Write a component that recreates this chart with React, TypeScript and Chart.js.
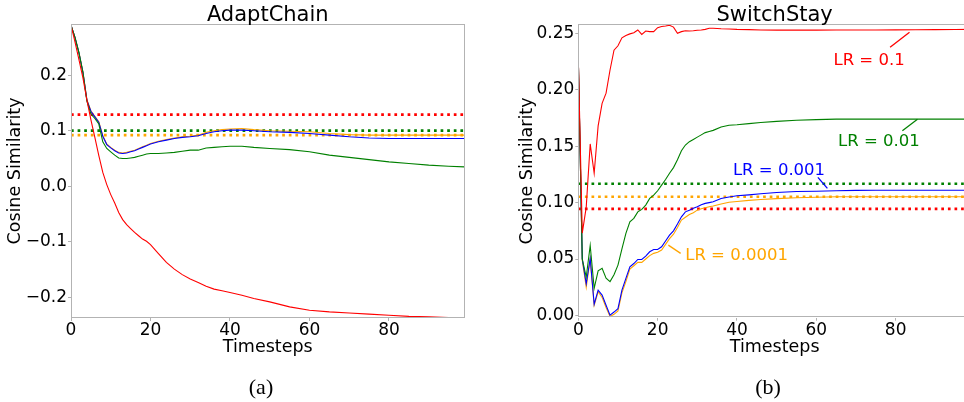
import React, { useEffect, useRef } from "react";
import { Chart, registerables } from "chart.js";
Chart.register(...registerables);

const SANS = "'DejaVu Sans', sans-serif";
const SERIF = "'Liberation Serif', 'Times New Roman', serif";

const RED = "#ff0000";
const GREEN = "#008000";
const BLUE = "#0000ff";
const ORANGE = "#ffa500";

// ---------- (a) AdaptChain ----------
const tA = [0,1,2,3,4,5,6,7,8,9,10,11,12,13,14,15,16,17,18,19,20,22,24,26,28,30,32,34,36,38,40,43,46,50,55,60,65,70,75,80,85,90,95,99];
const aRed = [0.290,0.260,0.228,0.195,0.155,0.120,0.088,0.055,0.025,0.003,-0.015,-0.030,-0.047,-0.060,-0.069,-0.076,-0.083,-0.089,-0.095,-0.099,-0.105,
  -0.121,-0.137,-0.149,-0.159,-0.167,-0.173,-0.180,-0.185,-0.188,-0.191,
  -0.196,-0.202,-0.208,-0.217,-0.223,-0.226,-0.228,-0.230,-0.232,-0.234,-0.235,-0.236,-0.237];
const aGreen = [0.290,0.268,0.240,0.205,0.153,0.130,0.122,0.112,0.080,0.068,0.062,0.056,0.051,0.050,0.050,0.051,0.052,0.054,0.056,0.058,0.059,
  0.059,0.060,0.061,0.063,0.065,0.065,0.069,0.070,0.071,0.072,
  0.072,0.070,0.068,0.066,0.062,0.056,0.052,0.048,0.044,0.041,0.038,0.036,0.035];
const aBlue = [0.290,0.268,0.240,0.205,0.155,0.135,0.125,0.115,0.090,0.075,0.069,0.064,0.060,0.059,0.060,0.062,0.064,0.067,0.070,0.073,0.076,
  0.080,0.083,0.086,0.088,0.089,0.091,0.095,0.098,0.100,0.101,
  0.101,0.100,0.098,0.097,0.095,0.092,0.089,0.087,0.086,0.086,0.086,0.086,0.086];
const aOrange = [0.290,0.268,0.241,0.206,0.156,0.136,0.126,0.116,0.091,0.076,0.070,0.065,0.061,0.060,0.061,0.063,0.065,0.068,0.071,0.074,0.077,
  0.081,0.084,0.087,0.089,0.090,0.092,0.097,0.100,0.102,0.103,
  0.104,0.102,0.100,0.099,0.098,0.095,0.093,0.092,0.092,0.092,0.092,0.092,0.092];
const aRefRed = 0.129;
const aRefGreen = 0.100;
const aRefOrange = 0.092;
const aYTicks = [-0.2, -0.1, 0.0, 0.1, 0.2];

// ---------- (b) SwitchStay ----------
const tB = [0,1,2,3,4,5,6,7,8,9,10,11,12,13,14,15,16,17,18,19,20,21,22,23,24,25,26,27,28,29,30,31,32,33,34,36,38,40,43,46,50,55,60,65,70,75,80,85,90,95,99];
const bRed = [0.228,0.073,0.096,0.152,0.126,0.168,0.188,0.197,0.2175,0.235,0.239,0.246,0.248,0.2495,0.2505,0.253,0.249,0.252,0.2515,0.2515,0.255,0.256,0.2565,0.2572,0.2555,0.250,0.2515,0.2523,0.252,0.2523,0.2527,0.253,0.2535,0.2545,0.2545,
  0.254,0.2538,0.2535,0.2533,0.253,0.2528,0.2528,0.2528,0.2529,0.253,0.253,0.2531,0.2532,0.2533,0.2534,0.2535];
const bGreen = [0.228,0.050,0.034,0.062,0.024,0.0395,0.0417,0.033,0.030,0.036,0.0446,0.059,0.0727,0.083,0.086,0.0918,0.094,0.0978,0.1037,0.1066,0.1105,0.1155,0.1205,0.126,0.131,0.138,0.146,0.151,0.154,0.156,0.158,0.160,0.162,0.163,0.164,
  0.167,0.1685,0.169,0.170,0.171,0.172,0.173,0.1735,0.174,0.174,0.174,0.174,0.174,0.174,0.174,0.174];
const bBlue = [0.228,0.050,0.028,0.0505,0.010,0.0224,0.018,0.009,0.0003,0.003,0.006,0.0224,0.0328,0.043,0.046,0.0496,0.0496,0.0526,0.0564,0.0585,0.0585,0.0608,0.066,0.0712,0.075,0.081,0.0874,0.0918,0.0933,0.095,0.0963,0.098,0.0993,0.100,0.1007,
  0.1037,0.105,0.106,0.1068,0.1078,0.109,0.1098,0.110,0.1105,0.1108,0.111,0.111,0.111,0.111,0.111,0.111];
const bOrange = [0.228,0.049,0.025,0.050,0.009,0.021,0.016,0.007,-0.001,0.001,0.004,0.020,0.030,0.041,0.044,0.047,0.047,0.050,0.053,0.055,0.056,0.058,0.063,0.068,0.072,0.078,0.0845,0.087,0.0895,0.091,0.0933,0.0945,0.0955,0.0963,0.097,
  0.0987,0.1003,0.101,0.102,0.1028,0.1035,0.1043,0.1048,0.1052,0.1052,0.1052,0.1052,0.1052,0.1052,0.1052,0.1052];
const bRefGreen = 0.1167;
const bRefOrange = 0.1052;
const bRefRed = 0.0945;
const bYTicks = [0.0, 0.05, 0.10, 0.15, 0.20, 0.25];

const xTicks = [0, 20, 40, 60, 80];

// in-plot labels of panel (b), in data units
const bLabels = [
  { text: "LR = 0.1", color: RED, x: 73.3, y: 0.2254, lx1: 78.6, ly1: 0.2376, lx2: 83.5, ly2: 0.2509 },
  { text: "LR = 0.01", color: GREEN, x: 75.8, y: 0.1536, lx1: 81.7, ly1: 0.1637, lx2: 85.5, ly2: 0.1738 },
  { text: "LR = 0.001", color: BLUE, x: 50.6, y: 0.1285, lx1: 60.4, ly1: 0.1223, lx2: 62.8, ly2: 0.1126 },
  { text: "LR = 0.0001", color: ORANGE, x: 39.9, y: 0.0526, lx1: 22.7, ly1: 0.0623, lx2: 25.8, ly2: 0.055 },
];

const pts = (t: number[], v: number[]) => t.map((x, i) => ({ x, y: v[i] }));
const hline = (y: number) => [{ x: 0, y }, { x: 99, y }];

const solid = (data: any, color: string) => ({
  data, borderColor: color, backgroundColor: color, borderWidth: 1.1, pointRadius: 0, tension: 0, fill: false,
});
const dotted = (data: any, color: string) => ({
  data, borderColor: color, backgroundColor: color, borderWidth: 2.7, borderDash: [2.7, 3.9], borderCapStyle: "butt",
  pointRadius: 0, tension: 0, fill: false,
});

type Panel = {
  title: string;
  caption: string;
  captionX: number;
  datasets: any[];
  yMin: number;
  yMax: number;
  yTicks: number[];
  yDigits: number;
  padding: { left: number; right: number; top: number; bottom: number };
  yAxisWidth: number;
  labels: typeof bLabels;
};

function makeConfig(p: Panel): any {
  const deco = {
    id: "deco",
    afterDatasetsDraw(chart: any) {
      const { ctx, scales } = chart;
      const xs = scales.x, ys = scales.y;
      ctx.save();
      ctx.font = `16.5px ${SANS}`;
      ctx.textAlign = "center";
      ctx.textBaseline = "middle";
      for (const l of p.labels) {
        ctx.fillStyle = l.color;
        ctx.fillText(l.text, xs.getPixelForValue(l.x), ys.getPixelForValue(l.y));
        ctx.strokeStyle = l.color;
        ctx.lineWidth = 1.3;
        ctx.beginPath();
        ctx.moveTo(xs.getPixelForValue(l.lx1), ys.getPixelForValue(l.ly1));
        ctx.lineTo(xs.getPixelForValue(l.lx2), ys.getPixelForValue(l.ly2));
        ctx.stroke();
      }
      ctx.restore();
    },
    afterDraw(chart: any) {
      const { ctx, chartArea: a } = chart;
      ctx.save();
      ctx.strokeStyle = "#b3b3b3";
      ctx.lineWidth = 1;
      ctx.strokeRect(Math.round(a.left) + 0.5, Math.round(a.top) + 0.5, Math.round(a.right - a.left) - 1, Math.round(a.bottom - a.top) - 1);
      ctx.fillStyle = "#000";
      ctx.textAlign = "center";
      ctx.textBaseline = "alphabetic";
      ctx.font = `21px ${SANS}`;
      ctx.fillText(p.title, (a.left + a.right) / 2, 21);
      ctx.font = `22px ${SERIF}`;
      ctx.fillText(p.caption, p.captionX, 394);
      ctx.restore();
    },
  };
  const fmt = (v: number) => {
    const s = Math.abs(v) < 1e-9 ? (0).toFixed(p.yDigits) : v.toFixed(p.yDigits);
    return s.replace("-", "\u2212");
  };
  return {
    type: "line",
    data: { datasets: p.datasets },
    plugins: [deco],
    options: {
      animation: false,
      responsive: false,
      devicePixelRatio: 1,
      layout: { padding: p.padding },
      plugins: { legend: { display: false }, tooltip: { enabled: false }, title: { display: false } },
      scales: {
        x: {
          type: "linear",
          min: 0,
          max: 99,
          afterBuildTicks: (s: any) => { s.ticks = xTicks.map((value) => ({ value })); },
          afterFit: (s: any) => { s.height = 40; },
          ticks: { color: "#000", font: { family: SANS, size: 17, lineHeight: 1.0 }, padding: 1, maxRotation: 0, autoSkip: false, callback: (v: number) => String(v) },
          grid: { display: true, drawOnChartArea: false, drawTicks: true, tickLength: 3, color: "#b3b3b3" },
          border: { display: false },
          title: { display: true, text: "Timesteps", color: "#000", font: { family: SANS, size: 17.5 }, padding: { top: 0, bottom: 0 } },
        },
        y: {
          type: "linear",
          min: p.yMin,
          max: p.yMax,
          afterBuildTicks: (s: any) => { s.ticks = p.yTicks.map((value) => ({ value })); },
          afterFit: (s: any) => { s.width = p.yAxisWidth; },
          ticks: { color: "#000", font: { family: SANS, size: 17 }, padding: 1, autoSkip: false, callback: (v: number) => fmt(v) },
          grid: { display: true, drawOnChartArea: false, drawTicks: true, tickLength: 3, color: "#b3b3b3" },
          border: { display: false },
          title: { display: true, text: "Cosine Similarity", color: "#000", font: { family: SANS, size: 17.5 }, padding: { top: 4.9, bottom: 0 } },
        },
      },
    },
  };
}

const panelA: Panel = {
  title: "AdaptChain",
  caption: "(a)",
  captionX: 261,
  datasets: [
    solid(pts(tA, aRed), RED),
    solid(pts(tA, aGreen), GREEN),
    solid(pts(tA, aBlue), BLUE),
    solid(pts(tA, aOrange), ORANGE),
    dotted(hline(aRefRed), RED),
    dotted(hline(aRefGreen), GREEN),
    dotted(hline(aRefOrange), ORANGE),
  ],
  yMin: -0.237,
  yMax: 0.292,
  yTicks: aYTicks,
  yDigits: 1,
  padding: { left: 0, right: 17.5, top: 24, bottom: 44 },
  yAxisWidth: 71,
  labels: [],
};

const panelB: Panel = {
  title: "SwitchStay",
  caption: "(b)",
  captionX: 286,
  datasets: [
    solid(pts(tB, bRed), RED),
    solid(pts(tB, bGreen), GREEN),
    solid(pts(tB, bBlue), BLUE),
    solid(pts(tB, bOrange), ORANGE),
    dotted(hline(bRefGreen), GREEN),
    dotted(hline(bRefOrange), ORANGE),
    dotted(hline(bRefRed), RED),
  ],
  yMin: -0.002,
  yMax: 0.258,
  yTicks: bYTicks,
  yDigits: 2,
  padding: { left: 29.6, right: 11, top: 24.3, bottom: 44.3 },
  yAxisWidth: 66.7,
  labels: bLabels,
};

function PanelChart({ panel, left, width }: { panel: Panel; left: number; width: number }) {
  const ref = useRef<HTMLCanvasElement>(null);
  useEffect(() => {
    if (!ref.current) return;
    const chart = new Chart(ref.current, makeConfig(panel));
    return () => chart.destroy();
  }, [panel]);
  return (
    <canvas
      ref={ref}
      width={width}
      height={402}
      style={{ position: "absolute", left, top: 0, width, height: 402 }}
    />
  );
}

export default function App() {
  return (
    <div style={{ position: "fixed", left: 0, top: 0, width: 964, height: 402, overflow: "hidden", background: "#fff" }}>
      <PanelChart panel={panelA} left={0} width={482} />
      <PanelChart panel={panelB} left={482} width={500} />
    </div>
  );
}
